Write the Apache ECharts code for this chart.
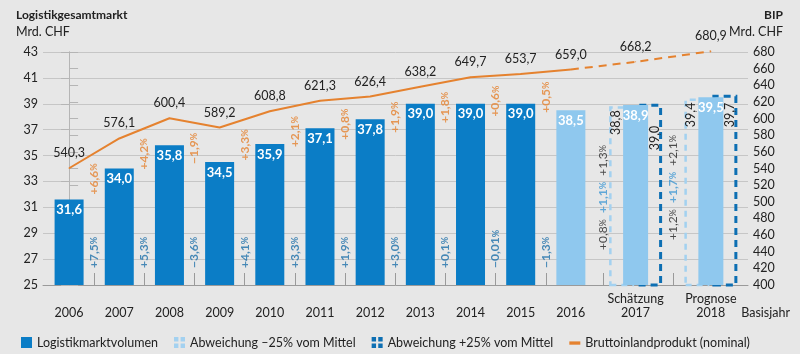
<!DOCTYPE html>
<html>
<head>
<meta charset="utf-8">
<script src="https://cdn.jsdelivr.net/npm/echarts@6/dist/echarts.min.js"></script>
<style>
html, body { margin: 0; padding: 0; background: #e7e7e7; }
#chart { width: 800px; height: 354px; }
</style>
</head>
<body>
<div id="chart"></div>
<script>
// ---- data ----
const years = ['2006', '2007', '2008', '2009', '2010', '2011', '2012', '2013', '2014', '2015', '2016', '2017', '2018'];
const yearTags = ['', '', '', '', '', '', '', '', '', '', '', 'Schätzung', 'Prognose'];
const volume = [31.6, 34.0, 35.8, 34.5, 35.9, 37.1, 37.8, 39.0, 39.0, 39.0, 38.5];   // 2006-2016
const volumeMid = [38.9, 39.5];    // 2017, 2018
const volumeLow = [38.8, 39.4];    // -25% vom Mittel
const volumeHigh = [39.0, 39.7];   // +25% vom Mittel
const bip = [540.3, 576.1, 600.4, 589.2, 608.8, 621.3, 626.4, 638.2, 649.7, 653.7, 659.0, 668.2, 680.9];
const volumeGrowth = ['+7,5', '+5,3', '−3,6', '+4,1', '+3,3', '+1,9', '+3,0', '+0,1', '−0,01', '−1,3'];
const bipGrowth = ['+6,6', '+4,2', '−1,9', '+3,3', '+2,1', '+0,8', '+1,9', '+1,8', '+0,6', '+0,5'];
const forecastGrowth = [['+0,8', '+1,1', '+1,3'], ['+1,2', '+1,7', '+2,1']];  // low, mid, high
const leftAxis = { min: 25, max: 43, step: 2 };
const rightAxis = { min: 400, max: 680, step: 20 };

// ---- layout ----
// the forecast years sit in wider slots than the history years
const slots = [0, 1, 2, 3, 4, 5, 6, 7, 8, 9, 10, 11.29, 12.79];
const mids = slots.slice(1).map((s, i) => (s + slots[i]) / 2);

const FONT = 'Lato';
const C_BAR = '#0b7dc6', C_LIGHT = '#8fc8ee', C_LOW = '#a3d1f0', C_HIGH = '#0d6fb3';
const C_ORANGE = '#e5822f', C_LBL = '#1e70aa', C_TXT = '#222';

const fmt = v => v.toFixed(1).replace('.', ',');
const nearest = v => {
    let best = 0;
    slots.forEach((s, i) => { if (Math.abs(s - v) < Math.abs(slots[best] - v)) best = i; });
    return best;
};

let chart = echarts.init(document.getElementById('chart'));

const pctRich = {
    b: { fontFamily: FONT, fontSize: 12, fontWeight: 'bold', color: C_LBL },
    bp: { fontFamily: FONT, fontSize: 9, fontWeight: 'bold', color: C_LBL },
    o: { fontFamily: FONT, fontSize: 12, fontWeight: 'bold', color: C_ORANGE },
    op: { fontFamily: FONT, fontSize: 9, fontWeight: 'bold', color: C_ORANGE },
    k: { fontFamily: FONT, fontSize: 12, color: C_TXT },
    kp: { fontFamily: FONT, fontSize: 9, color: C_TXT },
    f: { fontFamily: FONT, fontSize: 12, fontWeight: 'bold', color: '#3d97d3' },
    fp: { fontFamily: FONT, fontSize: 9, fontWeight: 'bold', color: '#3d97d3' }
};

const dashIcon = 'path://M0,0h4v4h-4zM6,0h4v4h-4zM0,6h4v4h-4zM6,6h4v4h-4z';
const highLabelPos = [[18, 22], [18, 8]];

let option = {
    backgroundColor: '#e7e7e7',
    animation: false,
    textStyle: { fontFamily: FONT },
    graphic: [
        { type: 'text', left: 16, top: 9, style: { text: 'Logistikgesamtmarkt', font: 'bold 12px ' + FONT, fill: C_TXT } },
        { type: 'text', left: 16, top: 25, style: { text: 'Mrd. CHF', font: '12.5px ' + FONT, fill: C_TXT } },
        { type: 'text', right: 17, top: 9, style: { text: 'BIP', font: 'bold 12px ' + FONT, fill: C_TXT } },
        { type: 'text', right: 17, top: 25, style: { text: 'Mrd. CHF', font: '12.5px ' + FONT, fill: C_TXT } },
        { type: 'text', right: 10, top: 306, style: { text: 'Basisjahr', font: '12.5px ' + FONT, fill: C_TXT } }
    ],
    legend: {
        left: 16,
        top: 331,
        itemWidth: 11,
        itemHeight: 11,
        itemGap: 16,
        textStyle: { fontFamily: FONT, fontSize: 12.5, color: C_TXT },
        data: [
            { name: 'Logistikmarktvolumen', icon: 'rect', itemStyle: { color: C_BAR } },
            { name: 'Abweichung –25% vom Mittel', icon: dashIcon, itemStyle: { color: C_LOW, borderWidth: 0 } },
            { name: 'Abweichung +25% vom Mittel', icon: dashIcon, itemStyle: { color: C_HIGH, borderWidth: 0 } },
            { name: 'Bruttoinlandprodukt (nominal)', icon: 'path://M0,0M10,10M0,4h10v3h-10z', itemStyle: { color: C_ORANGE } }
        ]
    },
    grid: { left: 43, right: 52, top: 52, bottom: 69 },
    xAxis: [
        {
            type: 'value',
            min: -0.52,
            max: 13.53,
            axisLine: { lineStyle: { color: '#9a9a9a' } },
            splitLine: { show: false },
            axisTick: { customValues: mids, inside: true, length: 12, lineStyle: { color: '#9a9a9a' } },
            axisLabel: {
                customValues: slots,
                margin: 7,
                formatter: v => {
                    const i = nearest(v);
                    return '{t|' + (yearTags[i] || ' ') + '}\n{t|' + years[i] + '}';
                },
                rich: { t: { fontFamily: FONT, fontSize: 12.5, lineHeight: 14, color: C_TXT } }
            }
        },
        { type: 'value', min: -0.52, max: 13.53, show: false }
    ],
    yAxis: [
        {
            type: 'value',
            min: leftAxis.min,
            max: leftAxis.max,
            interval: leftAxis.step,
            axisLine: { show: true, lineStyle: { color: '#b5b5b5' } },
            axisTick: { show: true, length: 8, lineStyle: { color: '#b5b5b5' } },
            axisLabel: { color: C_TXT, fontSize: 12.5, fontFamily: FONT, margin: 5 },
            splitLine: { lineStyle: { color: '#c6c6c6' } }
        },
        {
            type: 'value',
            min: rightAxis.min,
            max: rightAxis.max,
            interval: rightAxis.step,
            axisLine: { show: true, lineStyle: { color: '#b5b5b5' } },
            axisTick: { show: true, length: 9, lineStyle: { color: '#b5b5b5' } },
            axisLabel: { color: C_TXT, fontSize: 12.5, fontFamily: FONT, margin: 5 },
            splitLine: { show: false }
        }
    ],
    series: [
        {
            name: 'Logistikmarktvolumen',
            type: 'bar',
            xAxisIndex: 0,
            yAxisIndex: 0,
            barWidth: 29,
            z: 3,
            data: volume.map((v, i) => ({
                value: [slots[i], v],
                itemStyle: { color: i === volume.length - 1 ? C_LIGHT : C_BAR }
            })),
            label: {
                show: true, position: 'insideTop', distance: 4,
                color: '#fff', fontWeight: 'bold', fontSize: 13, fontFamily: FONT,
                formatter: p => fmt(p.value[1])
            }
        },
        {
            name: 'Abweichung –25% vom Mittel',
            type: 'bar',
            xAxisIndex: 1,
            yAxisIndex: 0,
            barWidth: 25,
            barGap: '-44%',
            z: 2,
            data: volumeLow.map((v, i) => [slots[11 + i], v]),
            itemStyle: { color: 'rgba(0,0,0,0)', borderColor: C_LOW, borderWidth: 2.5, borderType: [6, 5] },
            label: {
                show: true, position: [7, 4], rotate: 90, align: 'right', verticalAlign: 'middle',
                color: C_TXT, fontSize: 12.5, fontFamily: FONT,
                formatter: p => fmt(p.value[1])
            }
        },
        {
            name: 'Logistikmarktvolumen',
            type: 'bar',
            xAxisIndex: 1,
            yAxisIndex: 0,
            barWidth: 25,
            barGap: '-44%',
            z: 4,
            data: volumeMid.map((v, i) => [slots[11 + i], v]),
            itemStyle: { color: C_LIGHT },
            label: {
                show: true, position: 'insideTop', distance: 4,
                color: '#fff', fontWeight: 'bold', fontSize: 13, fontFamily: FONT,
                formatter: p => fmt(p.value[1])
            }
        },
        {
            name: 'Abweichung +25% vom Mittel',
            type: 'bar',
            xAxisIndex: 1,
            yAxisIndex: 0,
            barWidth: 25,
            barGap: '-44%',
            z: 2,
            data: volumeHigh.map((v, i) => ({
                value: [slots[11 + i], v],
                label: { position: highLabelPos[i] }
            })),
            itemStyle: { color: 'rgba(0,0,0,0)', borderColor: C_HIGH, borderWidth: 3, borderType: [7, 5] },
            label: {
                show: true, rotate: 90, align: 'right', verticalAlign: 'middle',
                color: C_TXT, fontSize: 12.5, fontFamily: FONT,
                formatter: p => fmt(p.value[1])
            }
        },
        {
            name: 'Bruttoinlandprodukt (nominal)',
            type: 'line',
            xAxisIndex: 0,
            yAxisIndex: 1,
            z: 5,
            symbol: 'circle',
            symbolSize: 1,
            itemStyle: { color: C_ORANGE },
            lineStyle: { color: C_ORANGE, width: 2 },
            data: bip.slice(0, 11).map((v, i) => [slots[i], v]),
            label: {
                show: true, position: 'top', distance: 8,
                color: C_TXT, fontSize: 12.5, fontFamily: FONT,
                formatter: p => fmt(p.value[1])
            }
        },
        {
            name: 'Bruttoinlandprodukt (nominal)',
            type: 'line',
            xAxisIndex: 0,
            yAxisIndex: 1,
            z: 5,
            clip: false,
            symbol: 'circle',
            symbolSize: 1,
            itemStyle: { color: C_ORANGE },
            lineStyle: { color: C_ORANGE, width: 2, type: [8, 6] },
            data: bip.slice(10).map((v, i) => ({
                value: [slots[10 + i], v],
                label: { show: i > 0 }
            })),
            label: {
                show: true, position: 'top', distance: 8,
                color: C_TXT, fontSize: 12.5, fontFamily: FONT,
                formatter: p => fmt(p.value[1])
            }
        },
        {
            // volume growth, written upward from the x axis between the years
            type: 'scatter',
            xAxisIndex: 0,
            yAxisIndex: 0,
            symbolSize: 0,
            silent: true,
            z: 6,
            data: volumeGrowth.map((t, i) => ({ value: [mids[i], leftAxis.min], txt: '{b|' + t + '}{bp|%}' }))
                .concat(forecastGrowth.map((g, j) => ({
                    value: [mids[10 + j], leftAxis.min],
                    txt: '{k|' + g[0] + '}{kp|%}  {f|' + g[1] + '}{fp|%}  {k|' + g[2] + '}{kp|%}',
                    label: { distance: j === 0 ? 35 : 45 }
                }))),
            label: {
                show: true, position: 'top', distance: 17, rotate: 90,
                align: 'left', verticalAlign: 'middle', rich: pctRich,
                formatter: p => p.data.txt
            }
        },
        {
            // GDP growth, hanging below the line between the years
            type: 'scatter',
            xAxisIndex: 0,
            yAxisIndex: 1,
            symbolSize: 0,
            silent: true,
            z: 6,
            data: bipGrowth.map((t, i) => ({ value: [mids[i], (bip[i] + bip[i + 1]) / 2], txt: '{o|' + t + '}{op|%}' })),
            label: {
                show: true, position: 'bottom', distance: 10, rotate: 90,
                align: 'right', verticalAlign: 'middle', rich: pctRich,
                formatter: p => p.data.txt
            }
        }
    ]
};

chart.setOption(option);
</script>
</body>
</html>
